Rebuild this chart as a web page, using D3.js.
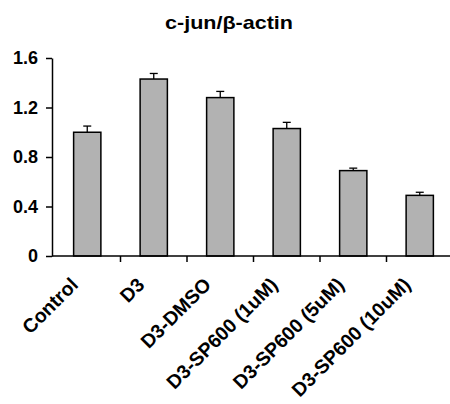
<!DOCTYPE html>
<html>
<head>
<meta charset="utf-8">
<script src="https://cdn.jsdelivr.net/npm/d3@7"></script>
<style>
  body { margin: 0; background: #fff; }
  svg { display: block; font-family: "Liberation Sans", Arial, sans-serif; }
</style>
</head>
<body>
<div id="chart"></div>
<script>
// 数据
const categories = ['Control', 'D3', 'D3-DMSO', 'D3-SP600 (1uM)', 'D3-SP600 (5uM)', 'D3-SP600 (10uM)'];
const values = [1.00, 1.43, 1.28, 1.03, 0.69, 0.49];
const errors = [0.05, 0.045, 0.05, 0.05, 0.02, 0.025];
const yTicks = [0, 0.4, 0.8, 1.2, 1.6];

const width = 450, height = 404;

const svg = d3.select('#chart').append('svg')
    .attr('width', width)
    .attr('height', height);

// 比例尺
const x = d3.scaleBand()
    .domain(categories)
    .range([54, 453]);

const y = d3.scaleLinear()
    .domain([0, 1.6])
    .range([256, 58]);

const barW = x.bandwidth() * 0.41;

// 标题
svg.append('text')
    .attr('x', 165)
    .attr('y', 29)
    .attr('textLength', 128)
    .attr('lengthAdjust', 'spacingAndGlyphs')
    .style('font-size', '19px')
    .style('font-weight', 'bold')
    .text('c-jun/β-actin');

// y轴
const yAxis = svg.append('g')
    .attr('transform', 'translate(52,0)')
    .call(d3.axisLeft(y)
        .tickValues(yTicks)
        .tickFormat(d => d === 0 ? '0' : d3.format('.1f')(d))
        .tickSize(6)
        .tickPadding(8)
        .tickSizeOuter(0));
yAxis.select('.domain').attr('stroke', '#000').attr('stroke-width', 1.5);
yAxis.selectAll('.tick line').attr('stroke', '#000').attr('stroke-width', 1.5);
yAxis.selectAll('.tick text')
    .style('font-size', '18px')
    .style('font-weight', 'bold')
    .attr('fill', '#000');

// 柱子
svg.append('g').selectAll('rect')
    .data(categories)
    .join('rect')
    .attr('x', d => x(d) + (x.bandwidth() - barW) / 2)
    .attr('y', (d, i) => y(values[i]))
    .attr('width', barW)
    .attr('height', (d, i) => y(0) - y(values[i]))
    .attr('fill', '#b2b2b2')
    .attr('stroke', '#000')
    .attr('stroke-width', 1.5);

// 误差线
const err = svg.append('g')
    .attr('stroke', '#000')
    .attr('stroke-width', 1.3);
categories.forEach((c, i) => {
    const cx = x(c) + x.bandwidth() / 2;
    err.append('line')
        .attr('x1', cx).attr('x2', cx)
        .attr('y1', y(values[i])).attr('y2', y(values[i] + errors[i]));
    err.append('line')
        .attr('x1', cx - 4).attr('x2', cx + 4)
        .attr('y1', y(values[i] + errors[i])).attr('y2', y(values[i] + errors[i]));
});

// x轴
const xAxis = svg.append('g')
    .attr('stroke', '#000')
    .attr('stroke-width', 1.5);
xAxis.append('line')
    .attr('x1', 52).attr('x2', 450)
    .attr('y1', y(0)).attr('y2', y(0));
categories.slice(1).forEach(c => {
    xAxis.append('line')
        .attr('x1', x(c)).attr('x2', x(c))
        .attr('y1', y(0)).attr('y2', y(0) + 6);
});

// 类别标签
svg.append('g').selectAll('text')
    .data(categories)
    .join('text')
    .attr('transform', d => `translate(${x(d) + x.bandwidth() / 2 - 8},${y(0) + 30}) rotate(-45)`)
    .attr('text-anchor', 'end')
    .style('font-size', '19.5px')
    .style('font-weight', 'bold')
    .text(d => d);
</script>
</body>
</html>
